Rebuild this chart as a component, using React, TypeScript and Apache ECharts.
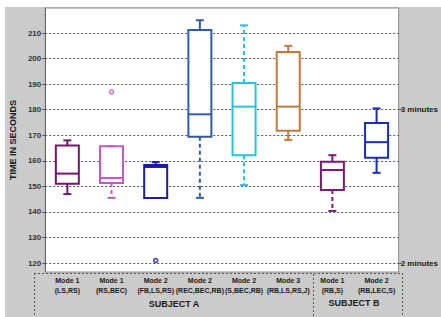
import React, { useEffect, useRef } from "react";
import * as echarts from "echarts";

const categories = [
  "Mode 1\n(LS,RS)",
  "Mode 1\n(RS,BEC)",
  "Mode 2\n(FB,LS,RS)",
  "Mode 2\n(REC,BEC,RB)",
  "Mode 2\n(S,BEC,RB)",
  "Mode 3\n(RB,LS,RS,J)",
  "Mode 1\n(RB,S)",
  "Mode 2\n(RB,LEC,S)",
];
// [min, Q1, median, Q3, max]
const boxValues = [
  [147, 151, 155, 166, 168],
  [145.5, 151.3, 153.3, 165.7, 165.7],
  [145.5, 145.5, 157.6, 158.4, 159.5],
  [145.5, 169.4, 178.2, 211.2, 215],
  [150.5, 162.2, 181.2, 190.5, 213],
  [168.2, 171.8, 181.2, 202.6, 205],
  [140.4, 148.6, 156.4, 159.6, 162.2],
  [155.3, 161.2, 167.3, 174.8, 180.5],
];
const outliers = [
  [1, 187],
  [2, 121],
];
const yTicks = [120, 130, 140, 150, 160, 170, 180, 190, 200, 210];
const rightTicks = [120, 180];
const rightTickLabels: Record<number, string> = { 120: "2 minutes", 180: "3 minutes" };
const groupLabels = ["SUBJECT A", "SUBJECT B"];

const colors = ["#6e1a6c", "#c657c6", "#1c1c9c", "#2f5ba8", "#25c3dc", "#c27a3c", "#781a76", "#1a2cbc"];
const lowerDashed = [false, true, false, true, true, false, true, false];
const upperDashed = [false, false, false, false, true, false, false, false];

export default function App() {
  const ref = useRef<HTMLDivElement>(null);
  useEffect(() => {
    document.body.style.margin = "0";
    const chart = echarts.init(ref.current!, null, { renderer: "svg" });
    const font = "'Liberation Sans', Arial, sans-serif";
    const dotted = [2, 2];
    const option: any = {
      animation: false,
      backgroundColor: "#ffffff",
      textStyle: { fontFamily: font },
      grid: {
        left: 34,
        right: 39,
        top: 8,
        bottom: 45,
        show: true,
        backgroundColor: "#ffffff",
        borderColor: "#8a8a8a",
        borderWidth: 1,
      },
      xAxis: {
        type: "category",
        data: categories,
        boundaryGap: true,
        axisLine: { show: false },
        axisTick: { show: false },
        splitLine: { show: false },
        axisLabel: {
          interval: 0,
          margin: 3,
          fontSize: 7,
          fontWeight: "bold",
          color: "#1a1a1a",
          lineHeight: 10,
          fontFamily: font,
        },
      },
      yAxis: [
        {
          type: "value",
          min: 116.5,
          max: 219.8,
          name: "TIME IN SECONDS",
          nameLocation: "middle",
          nameRotate: 90,
          nameGap: 18,
          nameTextStyle: { fontSize: 9, fontWeight: "bold", color: "#1a1a1a", fontFamily: font },
          axisLine: { show: true, lineStyle: { color: "#6a6a6a", width: 1 } },
          axisTick: { show: true, customValues: yTicks, length: 3, lineStyle: { color: "#555" } },
          axisLabel: {
            customValues: yTicks,
            fontSize: 8,
            fontWeight: "bold",
            color: "#333",
            margin: 4,
            fontFamily: font,
          },
          splitLine: { show: true, lineStyle: { color: "#555", type: dotted, width: 1 } },
        },
        {
          type: "value",
          min: 116.5,
          max: 219.8,
          position: "right",
          axisLine: { show: false },
          axisTick: { show: true, customValues: rightTicks, length: 3, lineStyle: { color: "#555" } },
          axisLabel: {
            customValues: rightTicks,
            formatter: (v: number) => rightTickLabels[Math.round(v)] || "",
            fontSize: 8,
            fontWeight: "bold",
            color: "#1a1a1a",
            margin: 2,
            fontFamily: font,
          },
          splitLine: { show: false },
        },
      ],
      series: [
        {
          type: "custom",
          xAxisIndex: 0,
          yAxisIndex: 0,
          clip: false,
          encode: { x: 0, y: [1, 2, 3, 4, 5] },
          data: boxValues.map((b, i) => [i, ...b]),
          renderItem: (params: any, api: any) => {
            const i = api.value(0);
            const vals = [1, 2, 3, 4, 5].map((k) => api.value(k));
            const x = api.coord([i, vals[2]])[0];
            const ys = vals.map((v) => api.coord([i, v])[1]);
            const c = colors[i];
            const bw = 23;
            const cw = 8;
            const lw = 2;
            const solid = { stroke: c, lineWidth: lw, fill: "none" };
            const dash = { stroke: c, lineWidth: lw, fill: "none", lineDash: [4, 3] };
            return {
              type: "group",
              children: [
                { type: "line", shape: { x1: x, y1: ys[3], x2: x, y2: ys[4] }, style: upperDashed[i] ? dash : solid },
                { type: "line", shape: { x1: x, y1: ys[1], x2: x, y2: ys[0] }, style: lowerDashed[i] ? dash : solid },
                { type: "line", shape: { x1: x - cw / 2, y1: ys[4], x2: x + cw / 2, y2: ys[4] }, style: solid },
                { type: "line", shape: { x1: x - cw / 2, y1: ys[0], x2: x + cw / 2, y2: ys[0] }, style: solid },
                {
                  type: "rect",
                  shape: { x: x - bw / 2, y: ys[3], width: bw, height: ys[1] - ys[3] },
                  style: { stroke: c, lineWidth: lw, fill: "#ffffff" },
                },
                { type: "line", shape: { x1: x - bw / 2, y1: ys[2], x2: x + bw / 2, y2: ys[2] }, style: solid },
              ],
            };
          },
        },
        {
          type: "scatter",
          xAxisIndex: 0,
          yAxisIndex: 0,
          symbol: "circle",
          symbolSize: 4,
          data: outliers.map((o) => ({
            value: o,
            itemStyle: { color: "#ffffff", borderColor: colors[o[0]], borderWidth: 1.6 },
          })),
        },
      ],
      graphic: [
        { type: "rect", z: -100, shape: { x: 5, y: 7, width: 436, height: 310 }, style: { fill: "#cbcbcb" } },
        { type: "line", shape: { x1: 34, y1: 273.5, x2: 402, y2: 273.5 }, style: { stroke: "#555", lineWidth: 1, lineDash: dotted } },
        { type: "line", shape: { x1: 34.5, y1: 273, x2: 34.5, y2: 317 }, style: { stroke: "#555", lineWidth: 1, lineDash: dotted } },
        { type: "line", shape: { x1: 313.5, y1: 274, x2: 313.5, y2: 317 }, style: { stroke: "#555", lineWidth: 1, lineDash: dotted } },
        { type: "line", shape: { x1: 402.5, y1: 273, x2: 402.5, y2: 317 }, style: { stroke: "#555", lineWidth: 1, lineDash: dotted } },
        {
          type: "text",
          x: 174,
          y: 304,
          style: { text: groupLabels[0], fontSize: 9, fontWeight: "bold", fill: "#1a1a1a", align: "center", verticalAlign: "middle", fontFamily: font },
        },
        {
          type: "text",
          x: 354,
          y: 303,
          style: { text: groupLabels[1], fontSize: 9, fontWeight: "bold", fill: "#1a1a1a", align: "center", verticalAlign: "middle", fontFamily: font },
        },
      ],
    };
    chart.setOption(option);
    return () => chart.dispose();
  }, []);
  return <div ref={ref} style={{ width: 441, height: 317 }} />;
}
